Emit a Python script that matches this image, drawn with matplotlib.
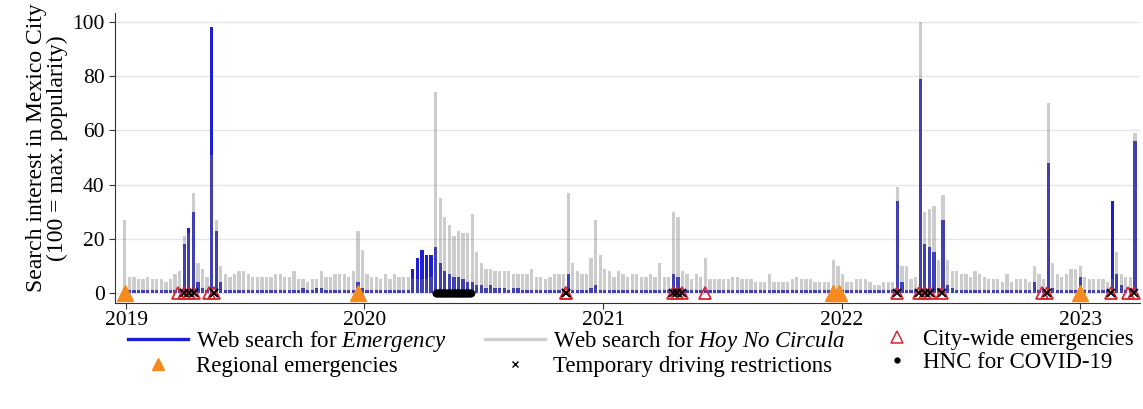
import numpy as np
import pandas as pd
import matplotlib
matplotlib.use("Agg")
import matplotlib.pyplot as plt
from matplotlib.lines import Line2D

plt.rcParams['font.family'] = ['Liberation Serif', 'DejaVu Serif']
plt.rcParams['mathtext.fontset'] = 'custom'
plt.rcParams['mathtext.rm'] = 'Liberation Serif'
plt.rcParams['mathtext.it'] = 'Liberation Serif:italic'

# weekly Google Trends, Mexico City
weeks = pd.date_range('2018-12-30', periods=222, freq='7D')

hnc = [27, 6, 6, 5, 5, 6, 5, 5, 5, 4, 5, 7, 8, 21, 22, 37, 11, 9, 6, 51,
       27, 10, 7, 6, 7, 8, 8, 7, 6, 6, 6, 6, 6, 7, 7, 6, 6, 8, 5, 5,
       4, 5, 5, 8, 6, 6, 7, 7, 7, 6, 8, 23, 16, 7, 6, 6, 5, 7, 5, 7,
       6, 6, 6, 5, 5, 5, 5, 6, 74, 35, 28, 25, 21, 23, 22, 22, 29, 15, 11, 9,
       9, 8, 8, 8, 8, 7, 7, 7, 7, 9, 6, 6, 5, 6, 7, 7, 7, 37, 11, 8,
       7, 7, 13, 27, 14, 9, 8, 6, 8, 7, 6, 7, 7, 6, 6, 7, 6, 11, 6, 6,
       30, 28, 8, 7, 5, 7, 6, 13, 5, 5, 5, 5, 5, 6, 6, 5, 5, 5, 4, 4,
       4, 7, 4, 4, 4, 4, 5, 6, 5, 5, 5, 4, 4, 4, 4, 12, 10, 7, 4, 4,
       5, 5, 5, 4, 3, 3, 4, 4, 4, 39, 10, 10, 5, 6, 100, 30, 31, 32, 12, 36,
       12, 8, 8, 7, 7, 6, 8, 7, 6, 5, 5, 5, 4, 7, 4, 5, 5, 5, 4, 10,
       7, 5, 70, 11, 7, 6, 7, 9, 9, 10, 6, 5, 5, 5, 5, 4, 5, 15, 7, 6,
       6, 59]

emergency = [1] * len(weeks)
spikes = {0: 2, 13: 18, 14: 24, 15: 30, 16: 4, 17: 2, 19: 98, 20: 23, 21: 4,
          39: 2, 42: 2, 43: 2, 51: 4, 52: 2,
          63: 9, 64: 13, 65: 16, 66: 14, 67: 14, 68: 17, 69: 11, 70: 8, 71: 7,
          72: 6, 73: 6, 74: 5, 75: 4, 76: 4, 77: 3, 78: 3, 79: 2, 80: 3, 81: 2,
          82: 2, 83: 2, 85: 2, 86: 2, 97: 7, 102: 2, 103: 3, 120: 7, 121: 6,
          169: 34, 170: 4, 174: 79, 175: 18, 176: 17, 177: 15, 178: 2, 179: 27,
          180: 3, 181: 2, 199: 4, 202: 48, 203: 2, 209: 6, 216: 34, 217: 7,
          218: 3, 220: 2, 221: 56}
for k, v in spikes.items():
    emergency[k] = v

# events
regional = pd.to_datetime(['2018-12-31', '2019-12-22', '2021-12-18',
                           '2021-12-27', '2023-01-01'])
citywide = pd.to_datetime(['2019-03-22', '2019-03-31', '2019-04-07', '2019-04-15',
                           '2019-05-08', '2019-05-15', '2020-11-04', '2020-11-05',
                           '2021-04-17', '2021-04-24', '2021-05-01', '2021-06-05',
                           '2022-03-26', '2022-04-29', '2022-05-08', '2022-05-16',
                           '2022-06-04', '2022-11-04', '2022-11-12', '2023-02-17',
                           '2023-03-15', '2023-03-24'])
restrictions = pd.to_datetime(['2019-03-31', '2019-04-07', '2019-04-15', '2019-05-15',
                               '2019-05-16', '2020-11-04', '2020-11-05', '2021-04-17',
                               '2021-04-24', '2021-05-01', '2022-03-26', '2022-04-29',
                               '2022-05-08', '2022-05-16', '2022-06-04', '2022-11-12',
                               '2023-02-17', '2023-03-24'])
covid_hnc = pd.date_range('2020-04-19', '2020-06-12', freq='D')

blue = '#1d1dd2'
fig = plt.figure(figsize=(11.43, 4.09), dpi=100)
ax = fig.add_axes([0.1006, 0.259, 0.8964, 0.709])

ax.bar(weeks, emergency, width=5, color=blue, zorder=2)
ax.bar(weeks, hnc, width=5, color='#7a7a7a', alpha=0.38, zorder=3)

ax.plot(covid_hnc, np.zeros(len(covid_hnc)), 'o', color='black', ms=4.5,
        zorder=6, clip_on=False)
ax.plot(regional, np.zeros(len(regional)), '^', color='#f58a1f', ms=11.5,
        ls='none', zorder=5, clip_on=False)
ax.plot(citywide, np.zeros(len(citywide)), '^', mfc='none', mec='#db2530',
        ms=8, mew=1.3, ls='none', zorder=6, clip_on=False)
ax.plot(restrictions, np.zeros(len(restrictions)), 'x', color='black',
        ms=5.5, mew=1.3, ls='none', zorder=7, clip_on=False)

ax.set_xlim(pd.Timestamp('2018-12-15'), pd.Timestamp('2023-04-02'))
ax.set_ylim(-3.7, 103.2)
years = pd.to_datetime(['2019-01-01', '2020-01-01', '2021-01-01',
                        '2022-01-01', '2023-01-01'])
ax.set_xticks(years)
ax.set_xticklabels(['2019', '2020', '2021', '2022', '2023'])
ax.set_yticks([0, 20, 40, 60, 80, 100])
ax.tick_params(labelsize=15.5, length=4, color='#333333')
ax.tick_params(axis='x', pad=2)
ax.yaxis.grid(True, color='#e6e6e6', lw=1)
ax.set_axisbelow(True)
for s in ['top', 'right']:
    ax.spines[s].set_visible(False)
for s in ['left', 'bottom']:
    ax.spines[s].set_color('#333333')
ax.set_ylabel('Search interest in Mexico City\n(100 = max. popularity)',
              fontsize=17, linespacing=0.95)
ax.yaxis.set_label_coords(-0.046, 0.535)

# legend in three columns, each placed on its own
cols = [
    ([Line2D([], [], color=blue, lw=2.4),
      Line2D([], [], marker='^', color='#f58a1f', ls='none', ms=9)],
     [r'Web search for $\it{Emergency}$', 'Regional emergencies'], 0.112, 2.6),
    ([Line2D([], [], color='#cfcfcf', lw=2.4),
      Line2D([], [], marker='x', color='black', ls='none', ms=5, mew=1)],
     [r'Web search for $\it{Hoy\ No\ Circula}$', 'Temporary driving restrictions'],
     0.4243, 2.6),
    ([Line2D([], [], marker='^', mfc='none', mec='#db2530', ls='none', ms=8, mew=1.1),
      Line2D([], [], marker='o', color='black', ls='none', ms=3.5)],
     ['City-wide emergencies', 'HNC for COVID-19'], 0.770, 1.5),
]
for h, labels, x0, hl in cols:
    fig.legend(h, labels, loc='upper left', bbox_to_anchor=(x0, 0.196),
               frameon=False, fontsize=16.5, handlelength=hl, handletextpad=0.35,
               labelspacing=0.1, borderpad=0, borderaxespad=0)

fig.savefig('out.png', dpi=100)
